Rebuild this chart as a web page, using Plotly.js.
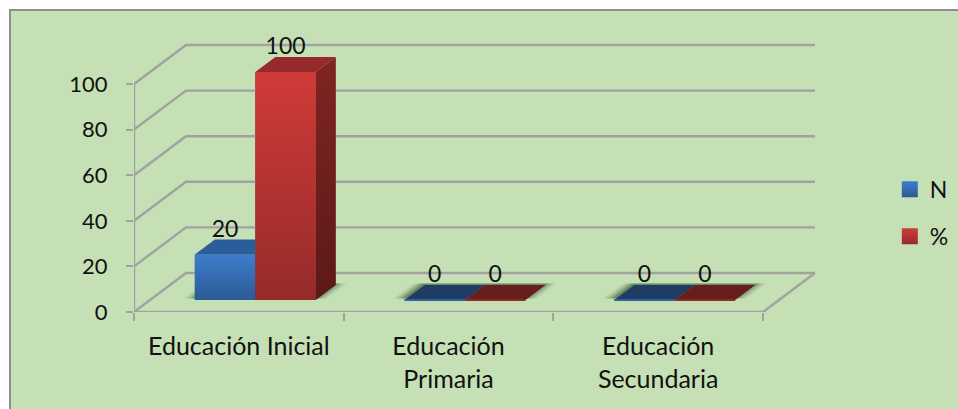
<!DOCTYPE html>
<html>
<head>
<meta charset="utf-8">
<script src="https://cdn.plot.ly/plotly-3.0.1.min.js"></script>
<style>
html,body{margin:0;padding:0;background:#fff;overflow:hidden;}
#frame{position:absolute;left:9px;top:9px;width:949px;height:400px;border-left:2px solid #8f8f8f;border-top:2px solid #8f8f8f;}
#chart{width:947px;height:398px;}
</style>
</head>
<body>
<div id="frame"><div id="chart"></div></div>
<script>
const categories = ["Educación Inicial", "Educación<br>Primaria", "Educación<br>Secundaria"];
const valuesN = [20, 0, 0];
const valuesPct = [100, 0, 0];
const yTicks = [0, 20, 40, 60, 80, 100];
const boundaries = [-0.5, 0.5, 1.5, 2.5];

const W = 947, H = 398;
const pad = 3;                            // spare pixels so the top and right wall lines are not clipped
const M = {l:123, r:143-pad, t:34-pad, b:97};
const pxX = 209.67, pxY = 2.28;           // pixels per data unit
const X = p => p / pxX, Y = p => p / pxY;
const wallDX = X(52), wallDY = Y(39);     // depth of the wall
const barW = X(60.5), barShift = X(16.5); // bar width and shift on the floor
const barBase = Y(12), barDX = X(20), barDY = Y(15);
const gridCol = '#a0a2a0';
const font = {family:'Lato, "Noto Sans", sans-serif', size:22, color:'#111'};
const catFont = {family:font.family, size:25, color:'#111'};
const valFont = {family:font.family, size:23, color:'#111'};

const series = [
  {name:'N', vals:valuesN, off:barShift-barW, front:['#3e7cca','#2b5b96'], side:['#23497a','#1c3a62'], top:'#2c5d9b', flatTop:'#1f3c64', edge:'#2f62a3'},
  {name:'%', vals:valuesPct, off:barShift, front:['#d03b38','#952b29'], side:['#7f2523','#5c1918'], top:'#96292a', flatTop:'#681e1c', edge:'#8f2b29'}
];

const traces = [];
// real bars (front planes)
series.forEach(s => traces.push({
  type:'bar', name:s.name, x:[0,1,2], y:s.vals, base:barBase, width:barW, offset:s.off,
  marker:{color:s.front[1]}, showlegend:false, hoverinfo:'x+y'
}));

// walls, gridlines and axis lines
const gx = [], gy = [];
yTicks.forEach(v => { gx.push(-0.5, -0.5+wallDX, 2.5+wallDX, null); gy.push(v, v+wallDY, v+wallDY, null); });
gx.push(-0.5,-0.5,null,-0.5,2.5,2.5+wallDX); gy.push(0,100,null,0,0,wallDY);
traces.push({type:'scatter', mode:'lines', x:gx, y:gy, line:{color:gridCol, width:2.4}, cliponaxis:false, showlegend:false, hoverinfo:'skip'});

function poly(xs, ys, extra){
  traces.push(Object.assign({type:'scatter', mode:'lines', x:xs.concat(xs[0]), y:ys.concat(ys[0]), fill:'toself',
    line:{width:0}, showlegend:false, hoverinfo:'skip', cliponaxis:false}, extra));
}
// floor shadows
categories.forEach((c,i) => {
  [[X(11),'rgba(70,100,60,0.10)'],[X(8),'rgba(60,90,55,0.16)'],[X(5),'rgba(50,80,45,0.22)'],[X(2),'rgba(40,70,40,0.30)']].forEach(([g,col]) => {
    const x0 = i+barShift-barW-g, x1 = i+barShift+barW+g;
    poly([x0,x1,x1+barDX,x0+barDX],[barBase+Y(1.5),barBase+Y(1.5),barBase+barDY+Y(1.5),barBase+barDY+Y(1.5)],{fillcolor:col});
  });
});
// bars: side, top, front
categories.forEach((c,i) => {
  series.forEach(s => {
    const v = s.vals[i], x0 = i+s.off, x1 = x0+barW, b = barBase, t = b+v;
    if (v > 0) poly([x1,x1,x1+barDX,x1+barDX],[b,t,t+barDY,b+barDY],
      {fillgradient:{type:'vertical',colorscale:[[0,s.side[1]],[1,s.side[0]]]}, fillcolor:s.side[0]});
    poly([x0,x1,x1+barDX,x0+barDX],[t,t,t+barDY,t+barDY],{fillcolor: v>0 ? s.top : s.flatTop});
    if (v > 0) poly([x0,x1,x1,x0],[b,b,t,t],
      {fillgradient:{type:'vertical',colorscale:[[0,s.front[1]],[1,s.front[0]]]}, fillcolor:s.front[0]});
    else traces.push({type:'scatter',mode:'lines',x:[x0,x1],y:[b,b],line:{color:s.edge,width:2},showlegend:false,hoverinfo:'skip',cliponaxis:false});
  });
});
// value labels
series.forEach(s => traces.push({
  type:'scatter', mode:'text', x:[0,1,2].map(i => i+s.off+barW/2), y:s.vals.map(v => v+barBase+Y(23.5)),
  text:s.vals.map(String), textposition:'middle center', textfont:valFont, cliponaxis:false, showlegend:false, hoverinfo:'skip'
}));
// legend entries
series.forEach(s => traces.push({
  type:'scatter', mode:'markers', name:s.name, x:[null], y:[null], legendgroup:s.name,
  marker:{symbol:'square', size:16, color:s.front[0], gradient:{type:'vertical', color:s.front[1]}, line:{width:0}}
}));

const plotH = H - M.t - M.b;
const layout = {
  width:W, height:H, margin:M, autosize:false,
  paper_bgcolor:'#c5e0b4', plot_bgcolor:'rgba(0,0,0,0)',
  font:font, barmode:'overlay', hovermode:'closest',
  xaxis:{range:[-0.5,2.5+X(52+pad)], tickmode:'array', tickvals:[0,1,2], ticktext:categories, showgrid:false, zeroline:false,
    showline:false, ticks:'', ticklabelstandoff:17, tickfont:catFont,
    minor:{tickmode:'array', tickvals:boundaries, ticks:'outside', ticklen:8, tickwidth:2, tickcolor:gridCol, showgrid:false}},
  yaxis:{range:[0,plotH/pxY], tickmode:'array', tickvals:yTicks, showgrid:false, zeroline:false, showline:false,
    ticks:'outside', ticklen:7, tickwidth:2, tickcolor:gridCol, ticklabelstandoff:14, tickfont:font},
  legend:{xref:'container', yref:'container', x:0.928, xanchor:'left', y:0.493, yanchor:'middle', traceorder:'grouped', tracegroupgap:14, font:{family:font.family,size:23,color:'#111'}, bgcolor:'rgba(0,0,0,0)', itemwidth:30}
};
Plotly.newPlot('chart', traces, layout, {displayModeBar:false});
</script>
</body>
</html>
